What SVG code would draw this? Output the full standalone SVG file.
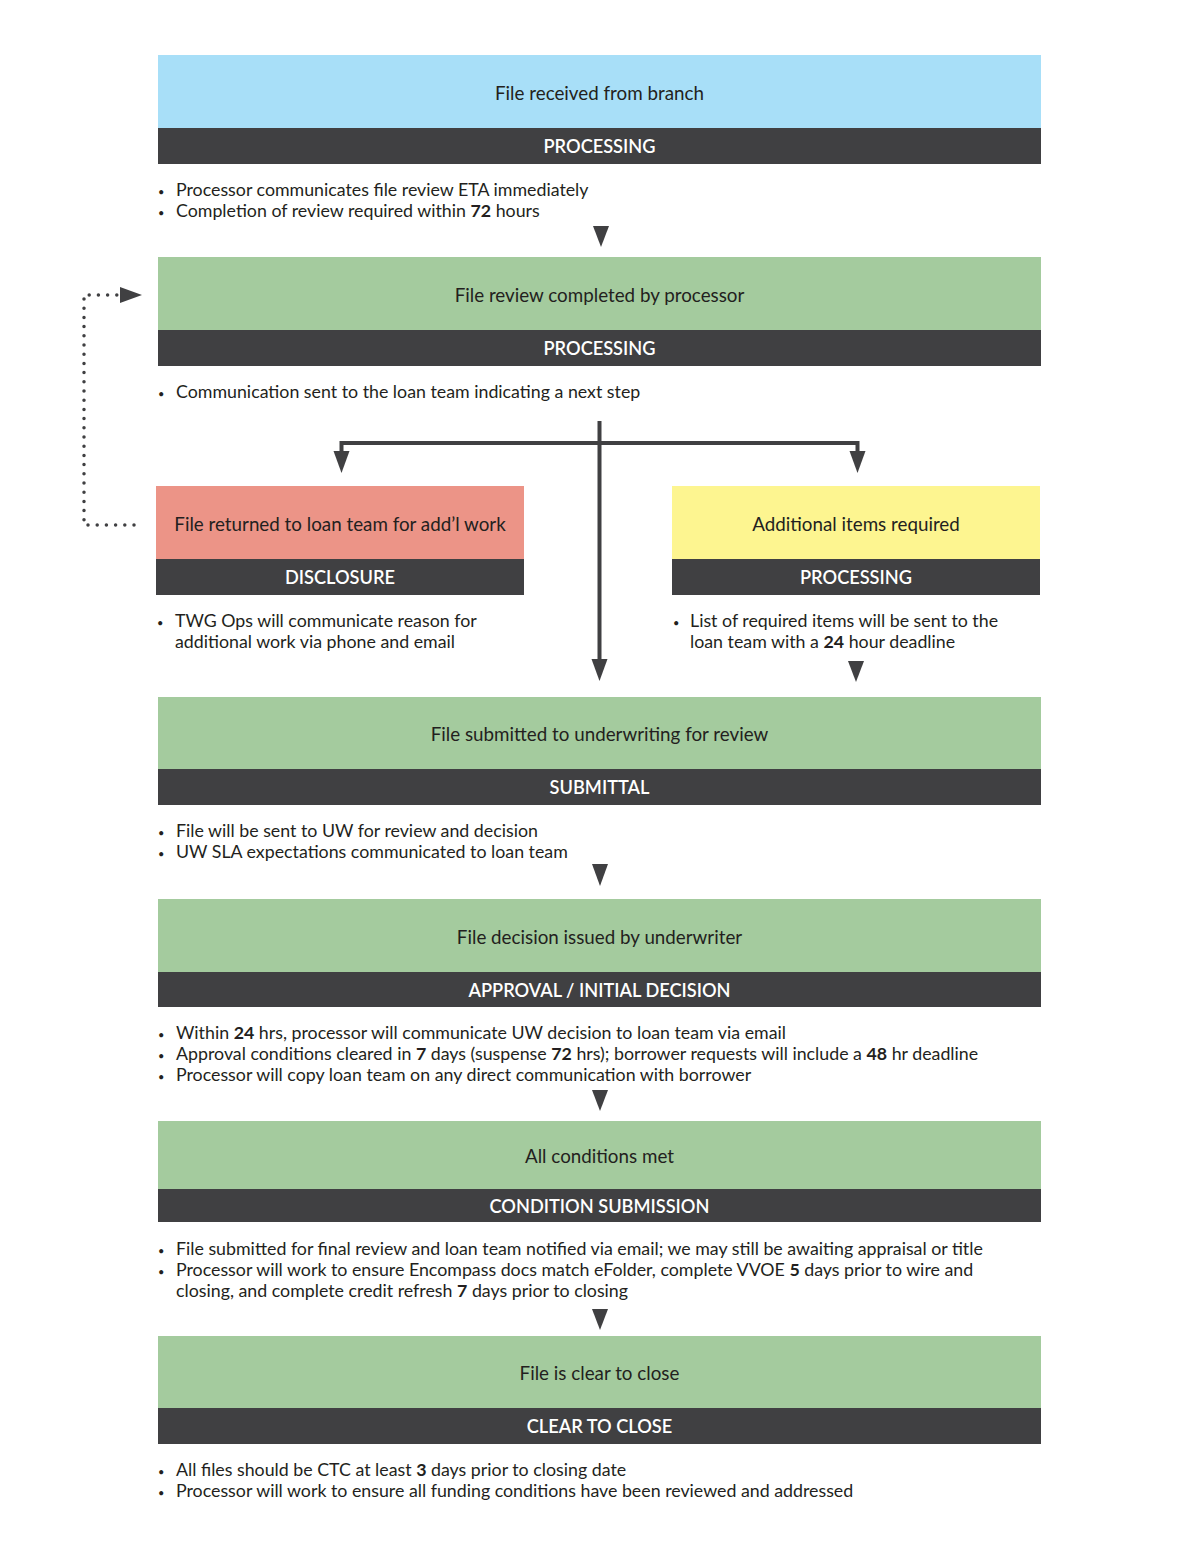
<svg xmlns="http://www.w3.org/2000/svg" width="1200" height="1553" viewBox="0 0 1200 1553">
<defs>
<style>
.t{font-family:Lato,"Liberation Sans",sans-serif;font-size:18.8px;fill:#231f20;text-anchor:middle}
.h{font-family:Lato,"Liberation Sans",sans-serif;font-size:18.2px;font-weight:600;fill:#ffffff;text-anchor:middle}
.b{font-family:Lato,"Liberation Sans",sans-serif;font-size:17.8px;fill:#231f20}
.d{font-size:11px}
.n{font-weight:700}
.bar{fill:#404042}
.blue{fill:#a8dff8}.green{fill:#a4cb9e}.red{fill:#ec9487}.yellow{fill:#fdf590}
.tri{fill:#404042}
.ln{stroke:#404042;stroke-width:4;fill:none}
.dot{stroke:#404042;stroke-width:3.5;stroke-linecap:round;stroke-dasharray:0 9.2;fill:none}
</style>
</defs>
<rect width="1200" height="1553" fill="#ffffff"/>

<g id="node-received">
<rect class="blue" x="158" y="55" width="883" height="73"/>
<rect class="bar" x="158" y="128" width="883" height="36"/>
<text class="t" x="599.5" y="99.5">File received from branch</text>
<text class="h" x="599.5" y="153">PROCESSING</text>
<text class="b" x="158" y="196"><tspan class="d">•</tspan><tspan x="176">Processor communicates file review ETA immediately</tspan></text>
<text class="b" x="158" y="217"><tspan class="d">•</tspan><tspan x="176">Completion of review required within <tspan class="n">72</tspan> hours</tspan></text>
</g>

<g id="node-review">
<rect class="green" x="158" y="257" width="883" height="73"/>
<rect class="bar" x="158" y="330" width="883" height="36"/>
<text class="t" x="599.5" y="301.5">File review completed by processor</text>
<text class="h" x="599.5" y="355">PROCESSING</text>
<text class="b" x="158" y="398"><tspan class="d">•</tspan><tspan x="176">Communication sent to the loan team indicating a next step</tspan></text>
</g>

<g id="node-returned">
<rect class="red" x="156" y="486" width="368" height="73"/>
<rect class="bar" x="156" y="559" width="368" height="36"/>
<text class="t" x="340" y="530.5">File returned to loan team for add’l work</text>
<text class="h" x="340" y="584">DISCLOSURE</text>
<text class="b" x="157" y="627"><tspan class="d">•</tspan><tspan x="175">TWG Ops will communicate reason for</tspan></text>
<text class="b" x="175" y="648">additional work via phone and email</text>
</g>

<g id="node-additional">
<rect class="yellow" x="672" y="486" width="368" height="73"/>
<rect class="bar" x="672" y="559" width="368" height="36"/>
<text class="t" x="856" y="530.5">Additional items required</text>
<text class="h" x="856" y="584">PROCESSING</text>
<text class="b" x="673" y="627"><tspan class="d">•</tspan><tspan x="690">List of required items will be sent to the</tspan></text>
<text class="b" x="690" y="648">loan team with a <tspan class="n">24</tspan> hour deadline</text>
</g>

<g id="node-submitted">
<rect class="green" x="158" y="697" width="883" height="72"/>
<rect class="bar" x="158" y="769" width="883" height="36"/>
<text class="t" x="599.5" y="740.5">File submitted to underwriting for review</text>
<text class="h" x="599.5" y="794">SUBMITTAL</text>
<text class="b" x="158" y="837"><tspan class="d">•</tspan><tspan x="176">File will be sent to UW for review and decision</tspan></text>
<text class="b" x="158" y="858"><tspan class="d">•</tspan><tspan x="176">UW SLA expectations communicated to loan team</tspan></text>
</g>

<g id="node-decision">
<rect class="green" x="158" y="899" width="883" height="73"/>
<rect class="bar" x="158" y="972" width="883" height="35"/>
<text class="t" x="599.5" y="943.5">File decision issued by underwriter</text>
<text class="h" x="599.5" y="996.5">APPROVAL / INITIAL DECISION</text>
<text class="b" x="158" y="1039"><tspan class="d">•</tspan><tspan x="176">Within <tspan class="n">24</tspan> hrs, processor will communicate UW decision to loan team via email</tspan></text>
<text class="b" x="158" y="1060"><tspan class="d">•</tspan><tspan x="176">Approval conditions cleared in <tspan class="n">7</tspan> days (suspense <tspan class="n">72</tspan> hrs); borrower requests will include a <tspan class="n">48</tspan> hr deadline</tspan></text>
<text class="b" x="158" y="1081"><tspan class="d">•</tspan><tspan x="176">Processor will copy loan team on any direct communication with borrower</tspan></text>
</g>

<g id="node-conditions">
<rect class="green" x="158" y="1121" width="883" height="68"/>
<rect class="bar" x="158" y="1189" width="883" height="33"/>
<text class="t" x="599.5" y="1162.5">All conditions met</text>
<text class="h" x="599.5" y="1213">CONDITION SUBMISSION</text>
<text class="b" x="158" y="1255"><tspan class="d">•</tspan><tspan x="176">File submitted for final review and loan team notified via email; we may still be awaiting appraisal or title</tspan></text>
<text class="b" x="158" y="1276"><tspan class="d">•</tspan><tspan x="176">Processor will work to ensure Encompass docs match eFolder, complete VVOE <tspan class="n">5</tspan> days prior to wire and</tspan></text>
<text class="b" x="176" y="1297">closing, and complete credit refresh <tspan class="n">7</tspan> days prior to closing</text>
</g>

<g id="node-ctc">
<rect class="green" x="158" y="1336" width="883" height="72"/>
<rect class="bar" x="158" y="1408" width="883" height="36"/>
<text class="t" x="599.5" y="1379.5">File is clear to close</text>
<text class="h" x="599.5" y="1433">CLEAR TO CLOSE</text>
<text class="b" x="158" y="1476"><tspan class="d">•</tspan><tspan x="176">All files should be CTC at least <tspan class="n">3</tspan> days prior to closing date</tspan></text>
<text class="b" x="158" y="1497"><tspan class="d">•</tspan><tspan x="176">Processor will work to ensure all funding conditions have been reviewed and addressed</tspan></text>
</g>

<g id="connectors">
<polygon class="tri" points="593,226 609,226 601,247"/>
<line class="ln" x1="599.5" y1="421" x2="599.5" y2="662"/>
<polygon class="tri" points="591.5,659 607.5,659 599.5,681"/>
<polyline class="ln" points="341.5,456 341.5,443 857.5,443 857.5,456"/>
<polygon class="tri" points="333.5,451 349.5,451 341.5,473"/>
<polygon class="tri" points="849.5,451 865.5,451 857.5,473"/>
<polygon class="tri" points="848,661 864,661 856,682"/>
<polygon class="tri" points="592,864 608,864 600,886"/>
<polygon class="tri" points="592,1090 608,1090 600,1111"/>
<polygon class="tri" points="592,1309 608,1309 600,1330"/>
<polyline class="dot" points="134,525 84,525 84,295 118,295"/>
<polygon class="tri" points="120,287 142,295 120,303"/>
</g>
</svg>
